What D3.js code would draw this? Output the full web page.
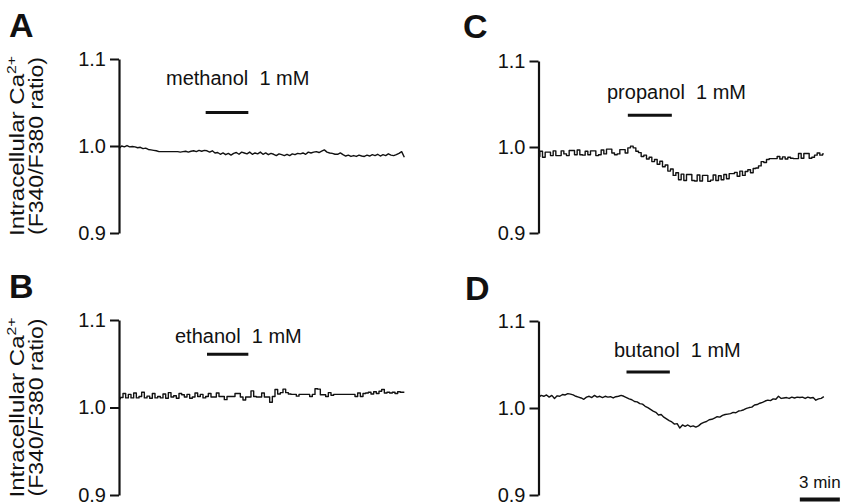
<!DOCTYPE html>
<html><head><meta charset="utf-8">
<script src="https://cdn.jsdelivr.net/npm/d3@7"></script>
<style>
body{margin:0;background:#fff}
svg{display:block}
text{font-family:"Liberation Sans",Arial,Helvetica,sans-serif;fill:#111}
</style>
</head><body>
<svg id="chart" width="845" height="502"></svg>
<script>
// ---------- data ----------
const panelLetters = ["A", "B", "C", "D"];
const drugNames = ["methanol", "ethanol", "propanol", "butanol"];
const concentrationLabel = "1 mM";
const yTickValues = [0.9, 1.0, 1.1];
const yTickLabels = ["0.9", "1.0", "1.1"];
const yAxisTitle = ["Intracellular Ca", "2+", "(F340/F380 ratio)"];
const sampleMinutes = 0.2;               // sampling interval of the traces (min)
const drugStartMin = [6.5, 6.6, 6.7, 6.6];
const drugEndMin = [9.7, 9.7, 10.0, 9.85];
const drugBarLevel = [1.0385, 1.061, 1.037, 1.0415];
const scaleBarMinutes = 3;
const scaleBarLabel = "3 min";

const methanolRatio = [
 0.997,1.000,0.999,1.0005,0.999,0.9995,0.999,0.998,0.9985,0.997,0.9975,
 0.996,0.9955,0.995,0.9945,
 0.9935,0.9935,0.9935,0.9935,0.9935,0.9935,0.9935,0.9935,
 0.993,0.9935,0.994,0.993,0.994,0.9945,0.9935,0.995,0.994,
 0.995,0.9945,0.993,0.9945,0.992,
 0.9925,0.9905,0.992,0.990,0.9915,0.9895,0.9915,
 0.9925,0.9905,0.993,0.992,0.991,0.993,0.9905,0.992,0.991,0.993,0.9905,0.992,0.990,0.9915,
 0.9905,0.989,0.991,0.990,0.989,0.9905,0.989,0.991,0.990,0.9915,
 0.991,0.992,0.9905,0.993,0.992,0.993,0.9935,0.9925,0.994,0.9955,
 0.993,0.992,0.9915,0.9905,0.9905,0.992,
 0.990,0.9885,0.9895,0.988,0.989,0.988,0.9895,0.9885,0.988,
 0.9895,0.9885,0.990,0.989,0.9905,0.9885,0.990,0.989,0.991,0.9895,0.989,0.990,
 0.9915,0.9935,0.987
];

const ethanolRatio = [
 1.010,1.0115,1.016,1.011,1.015,1.011,1.0165,1.011,1.0125,1.0175,
 1.011,1.013,1.0105,1.016,1.011,1.0125,1.011,1.0155,1.0105,1.017,
 1.012,1.0135,1.0105,1.016,1.0145,1.012,1.015,1.0105,1.012,1.0165,
 1.0125,1.015,1.011,1.0125,1.016,1.012,1.012,1.0165,1.0125,1.0125,
 1.009,1.0125,1.0125,1.0125,1.016,1.016,1.012,1.0085,1.012,1.012,
 1.019,1.0125,1.012,1.012,1.0165,1.012,1.012,1.006,1.0125,1.0205,
 1.0155,1.017,1.021,1.017,1.0155,1.015,1.015,1.013,1.015,1.015,
 1.015,1.015,1.0125,1.015,1.0215,1.021,1.0145,1.0145,1.0125,1.017,
 1.014,1.015,1.015,1.015,1.015,1.015,1.015,1.015,1.015,1.0125,
 1.0165,1.0125,1.016,1.0165,1.0175,1.0155,1.018,1.016,1.0185,1.0205,
 1.0165,1.0175,1.0165,1.0175,1.016,1.018,1.0175,1.0175
];

const propanolRatio = [
 0.989,0.995,0.988,0.994,0.994,0.990,0.9955,0.990,0.990,0.9955,
 0.992,0.990,0.996,0.996,0.991,0.9965,0.991,0.9905,0.995,0.991,
 0.9955,0.9955,0.990,0.991,0.9965,0.992,0.9975,0.9975,0.993,0.991,
 0.992,0.997,0.997,0.993,0.999,1.001,0.999,0.995,0.9935,0.989,
 0.9905,0.986,0.988,0.983,0.9855,0.980,0.9835,0.977,0.979,0.972,
 0.9745,0.967,0.970,0.962,0.9685,0.961,0.968,0.968,0.961,0.9605,
 0.9675,0.9605,0.967,0.967,0.960,0.9615,0.9675,0.961,0.9665,0.962,
 0.968,0.963,0.969,0.969,0.9705,0.966,0.972,0.967,0.9715,0.9735,
 0.970,0.975,0.9755,0.978,0.983,0.982,0.9855,0.9865,0.9865,0.9865,
 0.989,0.986,0.9885,0.986,0.988,0.987,0.9865,0.9865,0.9925,0.987,
 0.9925,0.9925,0.987,0.988,0.9905,0.993,0.9905,0.992
];

const butanolRatio = [
 1.012,1.0145,1.0135,1.015,1.0125,1.0145,1.011,1.014,1.0135,1.0155,
 1.015,1.0165,1.016,1.015,1.0135,1.0125,1.0115,1.010,1.0125,1.0135,
 1.012,1.0145,1.0125,1.0135,1.012,1.0135,1.0125,1.013,1.0115,1.013,
 1.0135,1.0145,1.0135,1.012,1.0105,1.0095,1.0075,1.007,1.005,1.0045,
 1.002,1.0005,0.9985,0.9965,0.995,0.992,0.9925,0.9895,0.9875,0.9855,
 0.984,0.9815,0.982,0.977,0.9805,0.979,0.9805,0.9785,0.9795,0.978,
 0.9795,0.982,0.9835,0.9845,0.9865,0.987,0.9885,0.990,0.9895,0.9915,
 0.9925,0.993,0.9935,0.995,0.9945,0.9965,0.997,0.998,0.9995,1.0005,
 1.001,1.0035,1.004,1.0055,1.0065,1.008,1.009,1.0085,1.0105,1.010,
 1.0135,1.011,1.0115,1.012,1.011,1.0125,1.0115,1.0125,1.012,1.0125,
 1.011,1.0125,1.0115,1.012,1.009,1.0105,1.011,1.013
];

const traces = [methanolRatio, ethanolRatio, propanolRatio, butanolRatio];

// ---------- layout (positions / styles only) ----------
const pxPerMin = 40 / 3;
const layout = [
  {letter: [9, 37],   axisX: 119,   yRange: [233, 59],  label: [166, 85],  curve: d3.curveLinear, title: true},
  {letter: [9, 298],  axisX: 119,   yRange: [495, 320], label: [175, 343], curve: d3.curveStep,   title: true},
  {letter: [463, 38], axisX: 538.5, yRange: [233, 61],  label: [607, 99],  curve: d3.curveStep,   title: false},
  {letter: [465, 300],axisX: 538.5, yRange: [495, 321], label: [614, 357], curve: d3.curveLinear, title: false}
];

const svg = d3.select("#chart");

layout.forEach((L, p) => {
  const values = traces[p];
  const times = values.map((_, i) => i * sampleMinutes);
  const x = d3.scaleLinear().domain([0, 1]).range([L.axisX, L.axisX + pxPerMin]);
  const y = d3.scaleLinear().domain([0.9, 1.1]).range(L.yRange);
  const g = svg.append("g");

  // panel letter
  g.append("text").attr("x", L.letter[0]).attr("y", L.letter[1])
    .attr("font-size", 34).attr("font-weight", "bold").text(panelLetters[p]);

  // y axis
  const axis = d3.axisLeft(y).tickValues(yTickValues)
    .tickFormat((d, i) => yTickLabels[i]).tickSize(9).tickSizeOuter(0).tickPadding(4);
  const ag = g.append("g").attr("transform", `translate(${L.axisX},0)`).call(axis);
  ag.select(".domain").attr("stroke", "#111").attr("stroke-width", 2.2);
  ag.selectAll(".tick line").attr("stroke", "#111").attr("stroke-width", 2);
  ag.selectAll(".tick text").attr("font-size", 20).attr("fill", "#111")
    .attr("font-family", "'Liberation Sans',Arial,Helvetica,sans-serif");

  // y axis title (two lines, centred on the axis)
  if (L.title) {
    const cy = (L.yRange[0] + L.yRange[1]) / 2;
    const t1 = g.append("text")
      .attr("transform", `translate(24,${cy}) rotate(-90)`)
      .attr("text-anchor", "middle").attr("font-size", 20)
      .attr("textLength", 180).attr("lengthAdjust", "spacingAndGlyphs");
    t1.append("tspan").text(yAxisTitle[0]);
    t1.append("tspan").attr("font-size", 13).attr("dy", -8).text(yAxisTitle[1]);
    g.append("text")
      .attr("transform", `translate(43,${cy}) rotate(-90)`)
      .attr("text-anchor", "middle").attr("font-size", 20)
      .attr("textLength", 178).attr("lengthAdjust", "spacingAndGlyphs")
      .text(yAxisTitle[2]);
  }

  // trace
  const line = d3.line().x((d, i) => x(times[i])).y(d => y(d)).curve(L.curve);
  g.append("path").datum(values).attr("d", line)
    .attr("fill", "none").attr("stroke", "#111").attr("stroke-width", 1.4)
    .attr("stroke-linejoin", "round");

  // drug application bar + label
  g.append("line")
    .attr("x1", x(drugStartMin[p])).attr("x2", x(drugEndMin[p]))
    .attr("y1", y(drugBarLevel[p])).attr("y2", y(drugBarLevel[p]))
    .attr("stroke", "#111").attr("stroke-width", 3);
  g.append("text").attr("x", L.label[0]).attr("y", L.label[1])
    .attr("font-size", 20)
    .text(drugNames[p] + "\u00A0\u00A0" + concentrationLabel);

  // time scale bar in panel D
  if (p === 3) {
    const s0 = 19.6;
    g.append("line").attr("x1", x(s0)).attr("x2", x(s0 + scaleBarMinutes))
      .attr("y1", 499.5).attr("y2", 499.5).attr("stroke", "#111").attr("stroke-width", 4);
    g.append("text").attr("x", x(s0 + scaleBarMinutes / 2)).attr("y", 488)
      .attr("text-anchor", "middle").attr("font-size", 17).text(scaleBarLabel);
  }
});
</script>
</body></html>
